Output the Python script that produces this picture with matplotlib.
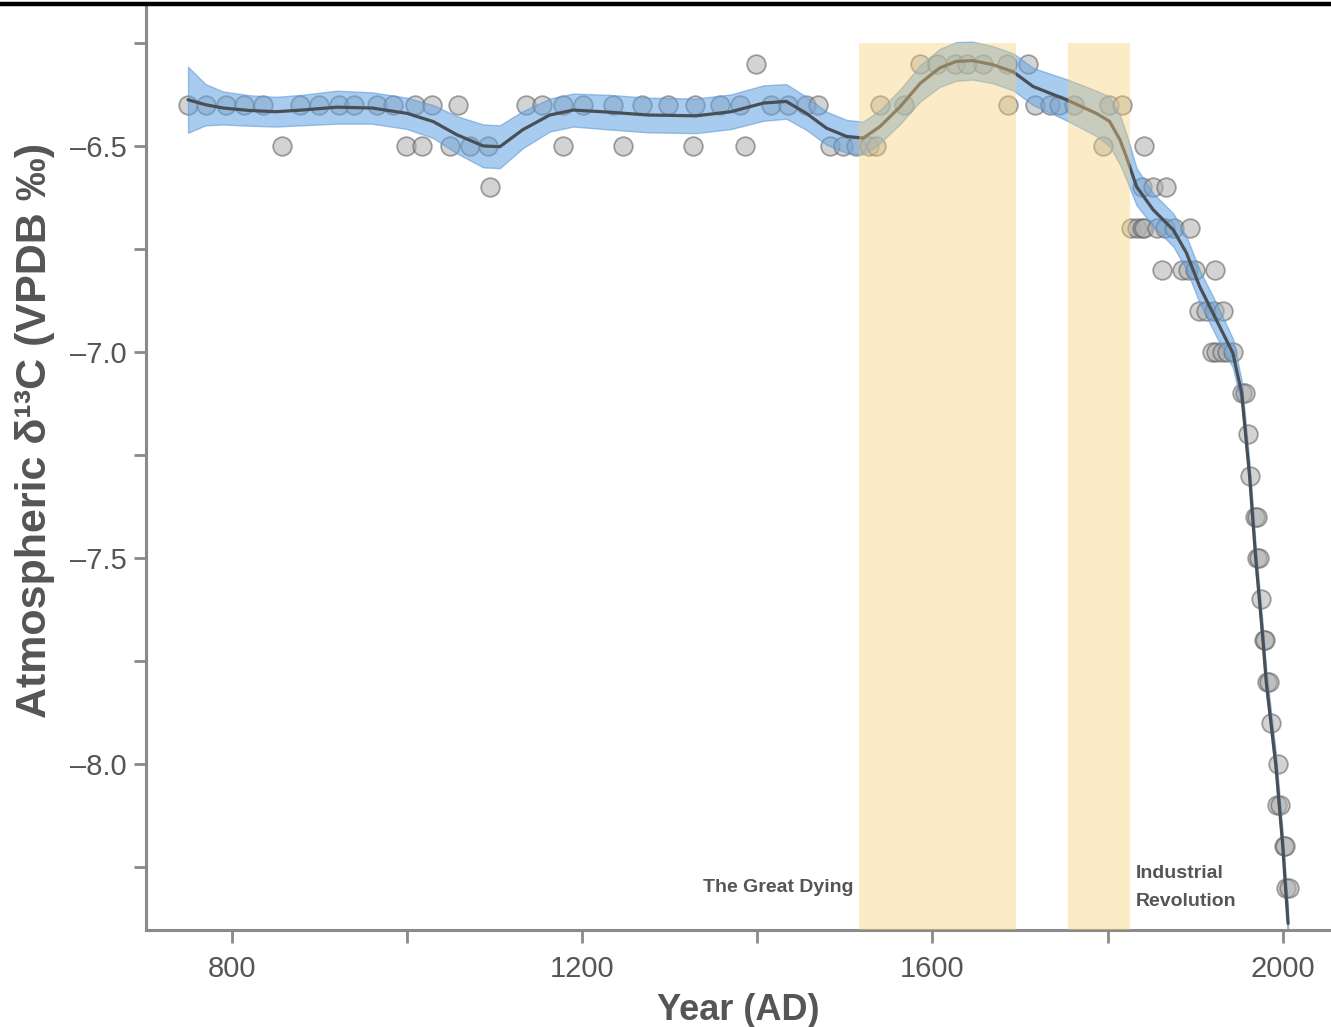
import matplotlib
matplotlib.use("Agg")
import matplotlib.pyplot as plt
from matplotlib.lines import Line2D
from matplotlib.ticker import MultipleLocator, FixedLocator
import numpy as np

plt.rcParams['font.family'] = ['Liberation Sans', 'DejaVu Sans']

# ---- measured data points (year, delta13C) ----
pt_years = [750, 771, 793, 814, 836, 878, 900, 922, 940, 966, 984, 1009, 1028, 1058,
            1136, 1154, 1178, 1201, 1235, 1268, 1298, 1329, 1357, 1380, 1416, 1435,
            1456, 1469, 1540, 1568, 1686, 1717, 1734, 1745, 1762, 1802, 1816,
            857, 999, 1017, 1049, 1072, 1093, 1178, 1247, 1327, 1386, 1483, 1498,
            1513, 1527, 1536, 1795, 1841,
            1095, 1839, 1852, 1867,
            1399, 1586, 1605, 1626, 1639, 1658, 1685, 1709,
            1827, 1833, 1839, 1842, 1856, 1865, 1876, 1894,
            1862, 1885, 1892, 1900, 1922,
            1904, 1912, 1921, 1932,
            1919, 1924, 1930, 1936, 1943,
            1953, 1957, 1960, 1963, 1968, 1970, 1971, 1973, 1975, 1978, 1980,
            1982, 1984, 1986, 1994, 1993, 1997, 2001, 2003, 2004, 2007]
pt_values = [-6.4] * 37 + [-6.5] * 17 + [-6.6] * 4 + [-6.3] * 8 + [-6.7] * 8 + \
            [-6.8] * 5 + [-6.9] * 4 + [-7.0] * 5 + \
            [-7.1, -7.1, -7.2, -7.3, -7.4, -7.4, -7.5, -7.5, -7.6, -7.7, -7.7,
             -7.8, -7.8, -7.9, -8.0, -8.1, -8.1, -8.2, -8.2, -8.3, -8.3]

# ---- smoothed trend ----
fit_years = [750, 770, 790, 820, 850, 880, 920, 960, 1000, 1030, 1057, 1087, 1106,
             1132, 1163, 1190, 1230, 1275, 1330, 1370, 1407, 1433, 1456, 1479, 1502,
             1521, 1540, 1563, 1586, 1608, 1627, 1646, 1669, 1692, 1715, 1753, 1787,
             1802, 1814, 1822, 1833, 1852, 1875, 1890, 1905, 1924, 1943, 1953, 1962,
             1969, 1977, 1981, 1992, 2000, 2003, 2006]
fit_values = [-6.388, -6.400, -6.408, -6.414, -6.417, -6.413, -6.406, -6.408, -6.421,
              -6.441, -6.473, -6.500, -6.502, -6.461, -6.425, -6.413, -6.418, -6.425,
              -6.427, -6.417, -6.396, -6.392, -6.421, -6.457, -6.477, -6.481, -6.453,
              -6.405, -6.348, -6.311, -6.295, -6.293, -6.303, -6.320, -6.356, -6.388,
              -6.421, -6.440, -6.485, -6.530, -6.599, -6.655, -6.704, -6.760, -6.841,
              -6.922, -7.003, -7.100, -7.300, -7.500, -7.691, -7.800, -8.002, -8.201,
              -8.298, -8.387]
fit_halfwidth = [0.080, 0.050, 0.040, 0.037, 0.036, 0.037, 0.040, 0.038, 0.038,
                 0.040, 0.045, 0.052, 0.052, 0.045, 0.040, 0.040, 0.042, 0.042,
                 0.042, 0.042, 0.043, 0.042, 0.040, 0.040, 0.040, 0.040, 0.040,
                 0.042, 0.044, 0.046, 0.047, 0.046, 0.045, 0.045, 0.045, 0.050,
                 0.055, 0.060, 0.060, 0.055, 0.045, 0.040, 0.040, 0.040, 0.040,
                 0.040, 0.035, 0.030, 0.030, 0.030, 0.030, 0.030, 0.030, 0.030,
                 0.035, 0.040]

# ---- highlighted periods ----
period_names = ["The Great Dying", "Industrial\nRevolution"]
period_start = [1516, 1755]
period_end = [1695, 1825]

x_major = [800, 1200, 1600, 2000]
y_major = [-6.5, -7.0, -7.5, -8.0]

fig = plt.figure(figsize=(13.31, 10.27), dpi=100)
ax = fig.add_axes([146 / 1331, 97 / 1027, 1 - 146 / 1331, (930 - 5) / 1027])

grey_txt = "#555555"
spine_c = "#8a8a8a"

ax.scatter(pt_years, pt_values, s=180, facecolor="#b0b0b0", edgecolor="#5a5a5a",
           linewidths=1.3, alpha=0.55, zorder=2)

fy = np.array(fit_years)
fv = np.array(fit_values)
fh = np.array(fit_halfwidth)
ax.fill_between(fy, fv - fh, fv + fh, color="#62a2e2", alpha=0.55, lw=1.0,
                edgecolor="#5a96d2", zorder=3)
ax.plot(fy, fv, color="#4a4f56", lw=2.3, zorder=4, solid_capstyle="round")

for s, e in zip(period_start, period_end):
    ax.axvspan(s, e, ymin=0, ymax=(-6.25 - -8.403) / (-6.158 - -8.403),
               color="#f8cd73", alpha=0.4, lw=0, zorder=5)

ax.text(period_start[0] - 6, -8.30, period_names[0], ha="right", va="center",
        fontsize=14, fontweight="bold", color=grey_txt, zorder=6)
ax.text(period_end[1] + 7, -8.30, period_names[1], ha="left", va="center",
        fontsize=14, fontweight="bold", color=grey_txt, linespacing=1.9, zorder=6)

ax.set_xlim(702, 2055)
ax.set_ylim(-8.403, -6.158)

ax.xaxis.set_major_locator(FixedLocator(x_major))
ax.xaxis.set_minor_locator(MultipleLocator(200))
ax.yaxis.set_major_locator(FixedLocator(y_major))
ax.yaxis.set_minor_locator(MultipleLocator(0.25))
ax.set_yticklabels(["\u2013" + f"{abs(v):.1f}" for v in y_major])
ax.set_xticklabels([str(v) for v in x_major])

ax.tick_params(axis="both", which="both", direction="out", color=spine_c, width=2,
               labelcolor=grey_txt, labelsize=21)
ax.tick_params(axis="x", which="both", length=9, pad=9)
ax.tick_params(axis="y", which="both", length=9, pad=5)

for side in ["top", "right"]:
    ax.spines[side].set_visible(False)
for side in ["left", "bottom"]:
    ax.spines[side].set_color(spine_c)
    ax.spines[side].set_linewidth(2.2)

ax.set_xlabel("Year (AD)", fontsize=26, fontweight="bold", color=grey_txt, labelpad=7)
ax.set_ylabel("Atmospheric \u03b4\u00b9\u00b3C (VPDB \u2030)", fontsize=31,
              fontweight="bold", color=grey_txt)
ax.yaxis.set_label_coords(-0.077, 0.54)

fig.add_artist(Line2D([0, 1], [1 - 3.5 / 1027, 1 - 3.5 / 1027],
                      transform=fig.transFigure, color="black", lw=3.2))

fig.savefig("out.png", dpi=100)
